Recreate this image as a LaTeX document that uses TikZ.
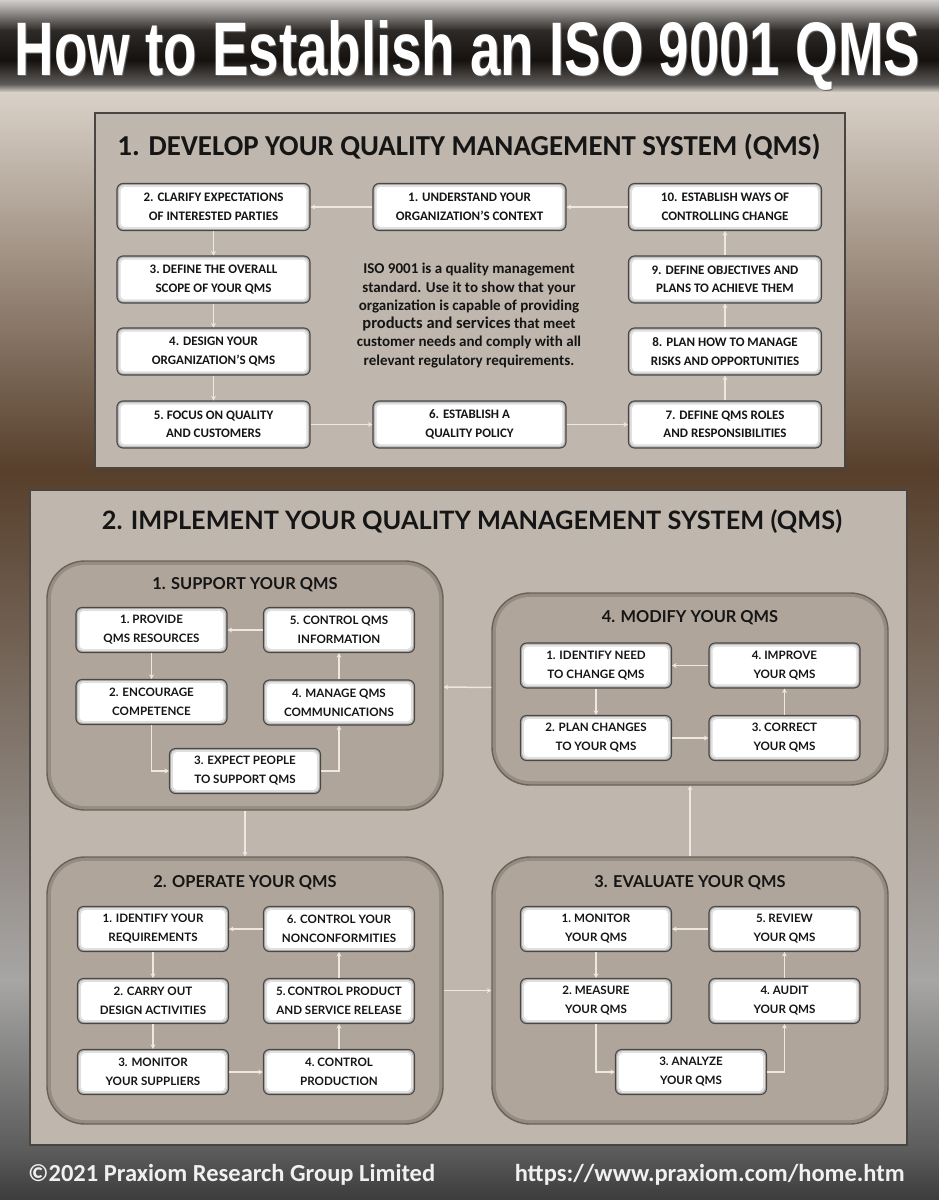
\documentclass[tikz,border=0pt]{standalone}
\usepackage{fontspec}
\usepackage{graphicx}
\setmainfont{Carlito}
\newfontfamily\latof{Lato}
\newfontfamily\titlef{Liberation Sans}
\usetikzlibrary{arrows.meta,calc}
\definecolor{boxborder}{HTML}{4A4744}
\definecolor{arrowc}{HTML}{EEE8E0}
\definecolor{panfill}{HTML}{BFB6AD}
\definecolor{pandraw}{HTML}{4A4540}
\definecolor{subfill}{HTML}{AFA59A}
\definecolor{subedge}{HTML}{978C81}
\definecolor{subdraw}{HTML}{6A6158}
\definecolor{txt}{HTML}{151515}
\definecolor{bgA}{HTML}{CFCCC9}
\definecolor{bgB}{HTML}{9C9A98}
\definecolor{bgC}{HTML}{2E2A27}
\definecolor{bgD}{HTML}{15110E}
\definecolor{bgE}{HTML}{5E5C5A}
\definecolor{bgF}{HTML}{D9D1C8}
\definecolor{bgG}{HTML}{573F2B}
\definecolor{bgH}{HTML}{A7A6A5}
\definecolor{bgI}{HTML}{5C5C5C}
\definecolor{bgJ}{HTML}{3C3C3C}
\begin{document}
\begin{tikzpicture}[x=1pt,y=-1pt,
  boxbase/.style={rectangle, rounded corners=6pt, draw=boxborder, line width=1.1pt,
    fill=black!30, inner sep=0pt, align=center, text=txt,
    path picture={
      \fill[black!12, rounded corners=5pt] ($(path picture bounding box.south west)+(1.6pt,1.6pt)$) rectangle ($(path picture bounding box.north east)+(-1.6pt,-1.6pt)$);
      \fill[white, rounded corners=4pt] ($(path picture bounding box.south west)+(3.6pt,3.6pt)$) rectangle ($(path picture bounding box.north east)+(-3.6pt,-3.6pt)$);}},
  pbox/.style={boxbase, minimum width=193pt, minimum height=47pt, font=\fontsize{13}{18.5}\selectfont\bfseries},
  qbox/.style={boxbase, minimum width=151pt, minimum height=45pt, font=\latof\fontsize{11.6}{19}\selectfont\bfseries},
  sub/.style={rectangle, rounded corners=38pt, draw=subdraw, line width=1.4pt, fill=subedge, inner sep=0pt,
    path picture={
      \fill[subfill, rounded corners=34pt] ($(path picture bounding box.south west)+(4pt,4pt)$) rectangle ($(path picture bounding box.north east)+(-4pt,-4pt)$);}},
  panel/.style={rectangle, draw=pandraw, line width=2pt, fill=panfill, inner sep=0pt},
  subtitle/.style={inner sep=0pt, text=txt, font=\latof\fontsize{16.4}{16.4}\selectfont\bfseries},
  arr/.style={draw=arrowc, line width=1.5pt, -{Stealth[length=4.5pt,width=5pt]}},
  foot/.style={inner sep=0pt, text=white!94!black, font=\bfseries}
]
\useasboundingbox (0,0) rectangle (939,1200);
% ---------- background ----------
\shade[top color=bgA, bottom color=bgB] (0,0) rectangle (939,10.5);
\shade[top color=bgB, bottom color=bgC] (0,10) rectangle (939,30.5);
\shade[top color=bgC, bottom color=bgD] (0,30) rectangle (939,60.5);
\shade[top color=bgD, bottom color=bgE] (0,60) rectangle (939,84.5);
\shade[top color=bgE, bottom color=bgF] (0,84) rectangle (939,92.5);
\shade[top color=bgF, bottom color=bgG] (0,92) rectangle (939,470.5);
\shade[top color=bgG, bottom color=bgH] (0,470) rectangle (939,980.5);
\shade[top color=bgH, bottom color=bgI] (0,980) rectangle (939,1150.5);
\shade[top color=bgI, bottom color=bgJ] (0,1150) rectangle (939,1200);
% ---------- title ----------
\node[anchor=base, inner sep=0pt, text=black!60] (titleshadow) at (468.5,76.5) {\resizebox{905pt}{55pt}{\titlef\bfseries How to Establish an ISO 9001 QMS}};
\node[anchor=base, inner sep=0pt, text=white] (title) at (467.5,75) {\resizebox{905pt}{55pt}{\titlef\bfseries How to Establish an ISO 9001 QMS}};
% ---------- panel 1 ----------
\node[panel, minimum width=750pt, minimum height=355pt] (pan1) at (470,290.5) {};
\node[inner sep=0pt, text=txt] (t1) at (469,147) {\resizebox{703pt}{!}{\fontsize{23}{23}\selectfont\bfseries 1. DEVELOP YOUR QUALITY MANAGEMENT SYSTEM (QMS)}};
\node[pbox] (d1) at (469.5,207) {1. UNDERSTAND YOUR\\ORGANIZATION’S CONTEXT};
\node[pbox] (d2) at (213.5,207) {2. CLARIFY EXPECTATIONS\\OF INTERESTED PARTIES};
\node[pbox] (d3) at (213.5,279.5) {3.\ DEFINE THE OVERALL\\SCOPE OF YOUR QMS};
\node[pbox] (d4) at (213.5,351.5) {4. DESIGN YOUR\\ORGANIZATION’S QMS};
\node[pbox] (d5) at (213.5,424.5) {5.\ FOCUS ON QUALITY\\AND CUSTOMERS};
\node[pbox] (d6) at (469.5,424.5) {6. ESTABLISH A\\QUALITY POLICY};
\node[pbox] (d7) at (725,424.5) {7. DEFINE QMS ROLES\\AND RESPONSIBILITIES};
\node[pbox] (d8) at (725,351.5) {8. PLAN HOW TO MANAGE\\RISKS AND OPPORTUNITIES};
\node[pbox] (d9) at (725,279.5) {9. DEFINE OBJECTIVES AND\\PLANS TO ACHIEVE THEM};
\node[pbox] (d10) at (725,207) {10. ESTABLISH WAYS OF\\CONTROLLING CHANGE};
\node[inner sep=0pt, align=center, text=txt, font=\fontsize{15}{18.3}\selectfont\bfseries] (iso) at (469,315.5)
  {ISO 9001 is a quality management\\standard. Use it to show that your\\organization is capable of providing\\{\fontsize{16.5}{18.3}\selectfont products and services} that meet\\customer needs and comply with all\\relevant regulatory requirements.};
\draw[arr] (d1) -- (d2);
\draw[arr] (d10) -- (d1);
\draw[arr] (d2) -- (d3);
\draw[arr] (d3) -- (d4);
\draw[arr] (d4) -- (d5);
\draw[arr] (d5) -- (d6);
\draw[arr] (d6) -- (d7);
\draw[arr] (d7) -- (d8);
\draw[arr] (d8) -- (d9);
\draw[arr] (d9) -- (d10);
% ---------- panel 2 ----------
\node[panel, minimum width=877pt, minimum height=655pt] (pan2) at (468.5,817.5) {};
\node[inner sep=0pt, text=txt] (t2) at (472,522) {\resizebox{740pt}{!}{\latof\fontsize{22}{22}\selectfont\bfseries 2. IMPLEMENT YOUR QUALITY MANAGEMENT SYSTEM (QMS)}};
\node[sub, minimum width=396pt, minimum height=249pt] (sup) at (245,685.5) {};
\node[sub, minimum width=396pt, minimum height=192pt] (mod) at (690,689) {};
\node[sub, minimum width=396pt, minimum height=267pt] (ope) at (245,990.5) {};
\node[sub, minimum width=396pt, minimum height=267pt] (eva) at (690,990.5) {};
\draw[arr] (mod) -- (sup);
\draw[arr] (sup) -- (ope);
\draw[arr] (ope) -- (eva);
\draw[arr] (eva) -- (mod);
% support
\node[subtitle] (tsup) at (245,585) {1. SUPPORT YOUR QMS};
\node[qbox] (s1) at (151.5,630) {1.\ PROVIDE\\QMS RESOURCES};
\node[qbox] (s5) at (339,630) {5. CONTROL QMS\\INFORMATION};
\node[qbox] (s2) at (151.5,702) {2. ENCOURAGE\\COMPETENCE};
\node[qbox] (s4) at (339,702.5) {4. MANAGE QMS\\COMMUNICATIONS};
\node[qbox] (s3) at (245,771) {3. EXPECT PEOPLE\\TO SUPPORT QMS};
\draw[arr] (s5) -- (s1);
\draw[arr] (s1) -- (s2);
\draw[arr] (s2.south) |- (s3.west);
\draw[arr] (s3.east) -| (s4.south);
\draw[arr] (s4) -- (s5);
% modify
\node[subtitle] (tmod) at (690,618) {4. MODIFY YOUR QMS};
\node[qbox] (m1) at (596,665.5) {1. IDENTIFY NEED\\TO CHANGE QMS};
\node[qbox] (m4) at (784.5,665.5) {4.\ IMPROVE\\YOUR QMS};
\node[qbox] (m2) at (596,738) {2. PLAN CHANGES\\TO YOUR QMS};
\node[qbox] (m3) at (784.5,738) {3.\ CORRECT\\YOUR QMS};
\draw[arr] (m4) -- (m1);
\draw[arr] (m1) -- (m2);
\draw[arr] (m2) -- (m3);
\draw[arr] (m3) -- (m4);
% operate
\node[subtitle] (tope) at (245,883) {2. OPERATE YOUR QMS};
\node[qbox] (o1) at (153,929) {1. IDENTIFY YOUR\\REQUIREMENTS};
\node[qbox] (o6) at (339,929) {6. CONTROL YOUR\\NONCONFORMITIES};
\node[qbox] (o2) at (153,1001) {2. CARRY OUT\\DESIGN ACTIVITIES};
\node[qbox] (o5) at (339,1001) {5.\,CONTROL PRODUCT\\AND SERVICE RELEASE};
\node[qbox] (o3) at (153,1072) {3. MONITOR\\YOUR SUPPLIERS};
\node[qbox] (o4) at (339,1072) {4.\ CONTROL\\PRODUCTION};
\draw[arr] (o6) -- (o1);
\draw[arr] (o1) -- (o2);
\draw[arr] (o2) -- (o3);
\draw[arr] (o3) -- (o4);
\draw[arr] (o4) -- (o5);
\draw[arr] (o5) -- (o6);
% evaluate
\node[subtitle] (teva) at (690,883) {3. EVALUATE YOUR QMS};
\node[qbox] (e1) at (596,929) {1.\ MONITOR\\YOUR QMS};
\node[qbox] (e5) at (784.5,929) {5.\ REVIEW\\YOUR QMS};
\node[qbox] (e2) at (596,1001) {2.\ MEASURE\\YOUR QMS};
\node[qbox] (e4) at (784.5,1001) {4.\ AUDIT\\YOUR QMS};
\node[qbox] (e3) at (691,1072) {3.\ ANALYZE\\YOUR QMS};
\draw[arr] (e5) -- (e1);
\draw[arr] (e1) -- (e2);
\draw[arr] (e2.south) |- (e3.west);
\draw[arr] (e3.east) -| (e4.south);
\draw[arr] (e4) -- (e5);
% ---------- footer ----------
\node[foot, anchor=west] (copy) at (28,1175) {\resizebox{407pt}{!}{\fontsize{21}{21}\selectfont\bfseries ©2021 Praxiom Research Group Limited}};
\node[foot, anchor=east] (url) at (905,1175) {\resizebox{390pt}{!}{\fontsize{21}{21}\selectfont\bfseries https://www.praxiom.com/home.htm}};
\end{tikzpicture}
\end{document}
